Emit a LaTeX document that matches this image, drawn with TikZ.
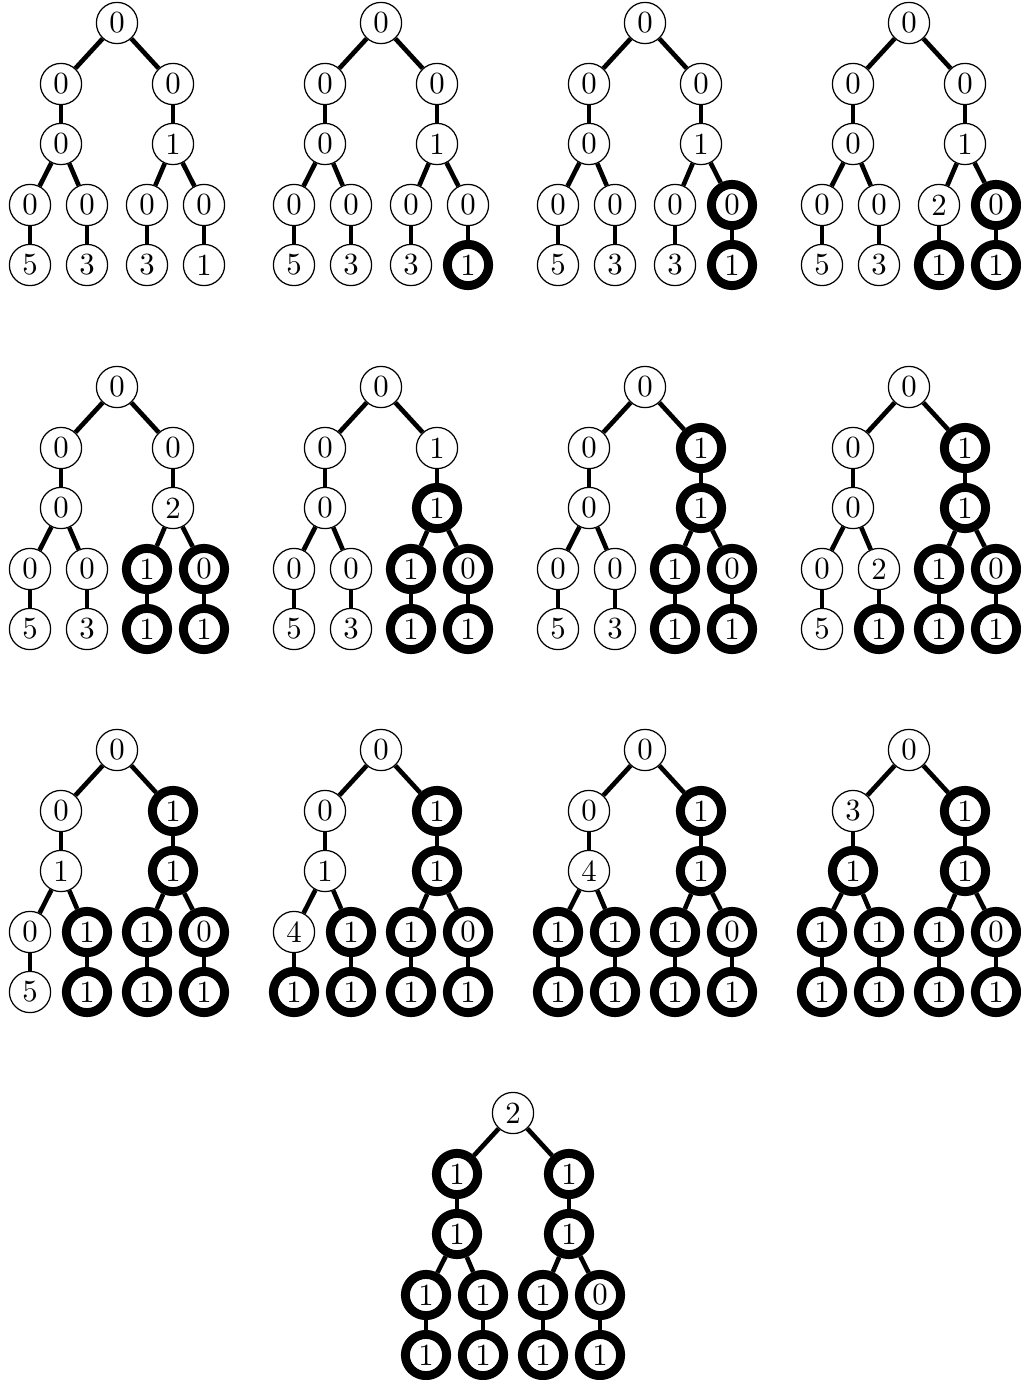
\documentclass[tikz,border=0pt]{standalone}
\tikzset{
  nd/.style={circle,draw,line width=0.4pt,minimum size=13.4pt,inner sep=0pt},
  ndk/.style={nd,line width=2.9pt},
  edge/.style={line width=1.5pt}
}
\newcommand{\heaptree}[3]{%
  \begin{scope}[shift={(#1)}]
    \coordinate (pr) at (0,0);
    \coordinate (pa) at (-56,61);
    \coordinate (pb) at (56,61);
    \coordinate (pc) at (-56,121);
    \coordinate (pd) at (56,121);
    \coordinate (pe) at (-87,182);
    \coordinate (pf) at (-30,182);
    \coordinate (pg) at (30,182);
    \coordinate (ph) at (87,182);
    \coordinate (pi) at (-87,242);
    \coordinate (pj) at (-30,242);
    \coordinate (pk) at (30,242);
    \coordinate (pl) at (87,242);
    \foreach \nm/\st/\lb in {#3}
      \node[\st] (#2\nm) at (p\nm) {\lb};
    \foreach \u/\v in {r/a,r/b,a/c,b/d,c/e,c/f,d/g,d/h,e/i,f/j,g/k,h/l}
      \draw[edge] (#2\u) -- (#2\v);
  \end{scope}}
\begin{document}
\begin{tikzpicture}[x=0.325pt,y=-0.325pt]
\useasboundingbox (0,0) rectangle (1020,1380);
\heaptree{117,23}{s1}{r/nd/0,a/nd/0,b/nd/0,c/nd/0,d/nd/1,e/nd/0,f/nd/0,g/nd/0,h/nd/0,i/nd/5,j/nd/3,k/nd/3,l/nd/1}
\heaptree{381,23}{s2}{r/nd/0,a/nd/0,b/nd/0,c/nd/0,d/nd/1,e/nd/0,f/nd/0,g/nd/0,h/nd/0,i/nd/5,j/nd/3,k/nd/3,l/ndk/1}
\heaptree{645,23}{s3}{r/nd/0,a/nd/0,b/nd/0,c/nd/0,d/nd/1,e/nd/0,f/nd/0,g/nd/0,h/ndk/0,i/nd/5,j/nd/3,k/nd/3,l/ndk/1}
\heaptree{909,23}{s4}{r/nd/0,a/nd/0,b/nd/0,c/nd/0,d/nd/1,e/nd/0,f/nd/0,g/nd/2,h/ndk/0,i/nd/5,j/nd/3,k/ndk/1,l/ndk/1}
\heaptree{117,387}{s5}{r/nd/0,a/nd/0,b/nd/0,c/nd/0,d/nd/2,e/nd/0,f/nd/0,g/ndk/1,h/ndk/0,i/nd/5,j/nd/3,k/ndk/1,l/ndk/1}
\heaptree{381,387}{s6}{r/nd/0,a/nd/0,b/nd/1,c/nd/0,d/ndk/1,e/nd/0,f/nd/0,g/ndk/1,h/ndk/0,i/nd/5,j/nd/3,k/ndk/1,l/ndk/1}
\heaptree{645,387}{s7}{r/nd/0,a/nd/0,b/ndk/1,c/nd/0,d/ndk/1,e/nd/0,f/nd/0,g/ndk/1,h/ndk/0,i/nd/5,j/nd/3,k/ndk/1,l/ndk/1}
\heaptree{909,387}{s8}{r/nd/0,a/nd/0,b/ndk/1,c/nd/0,d/ndk/1,e/nd/0,f/nd/2,g/ndk/1,h/ndk/0,i/nd/5,j/ndk/1,k/ndk/1,l/ndk/1}
\heaptree{117,750}{s9}{r/nd/0,a/nd/0,b/ndk/1,c/nd/1,d/ndk/1,e/nd/0,f/ndk/1,g/ndk/1,h/ndk/0,i/nd/5,j/ndk/1,k/ndk/1,l/ndk/1}
\heaptree{381,750}{s10}{r/nd/0,a/nd/0,b/ndk/1,c/nd/1,d/ndk/1,e/nd/4,f/ndk/1,g/ndk/1,h/ndk/0,i/ndk/1,j/ndk/1,k/ndk/1,l/ndk/1}
\heaptree{645,750}{s11}{r/nd/0,a/nd/0,b/ndk/1,c/nd/4,d/ndk/1,e/ndk/1,f/ndk/1,g/ndk/1,h/ndk/0,i/ndk/1,j/ndk/1,k/ndk/1,l/ndk/1}
\heaptree{909,750}{s12}{r/nd/0,a/nd/3,b/ndk/1,c/ndk/1,d/ndk/1,e/ndk/1,f/ndk/1,g/ndk/1,h/ndk/0,i/ndk/1,j/ndk/1,k/ndk/1,l/ndk/1}
\heaptree{513,1113}{s13}{r/nd/2,a/ndk/1,b/ndk/1,c/ndk/1,d/ndk/1,e/ndk/1,f/ndk/1,g/ndk/1,h/ndk/0,i/ndk/1,j/ndk/1,k/ndk/1,l/ndk/1}
\end{tikzpicture}
\end{document}
